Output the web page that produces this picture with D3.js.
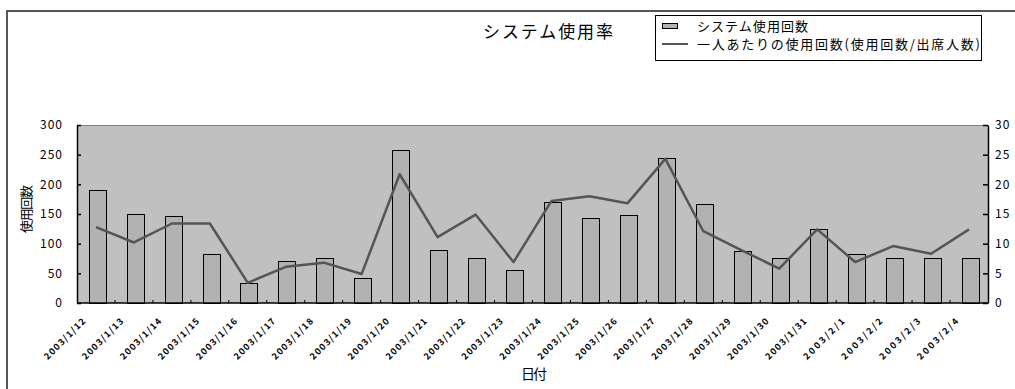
<!DOCTYPE html>
<html>
<head>
<meta charset="utf-8">
<script src="https://cdn.jsdelivr.net/npm/d3@7"></script>
<style>
  html, body { margin: 0; padding: 0; background: #fff; overflow: hidden; }
  text { font-family: "Noto Sans CJK JP", "DejaVu Sans", sans-serif; fill: #000; }
</style>
</head>
<body>
<svg id="chart" width="1015" height="389"></svg>
<script>
// 日付 (categories)
const dates = ["2003/1/12","2003/1/13","2003/1/14","2003/1/15","2003/1/16","2003/1/17",
  "2003/1/18","2003/1/19","2003/1/20","2003/1/21","2003/1/22","2003/1/23","2003/1/24",
  "2003/1/25","2003/1/26","2003/1/27","2003/1/28","2003/1/29","2003/1/30","2003/1/31",
  "2003/2/1","2003/2/2","2003/2/3","2003/2/4"];
// システム使用回数 (left axis)
const usageCount = [190,150,147,83,33,71,76,42,258,89,76,55,170,144,149,245,167,87,76,124,83,76,76,76];
// 一人あたりの使用回数 (right axis)
const usagePerPerson = [12.8,10.2,13.4,13.4,3.4,6.1,6.8,4.9,21.7,11.1,14.9,6.9,17.2,18.0,16.8,24.3,12.1,8.9,5.8,12.4,6.9,9.6,8.3,12.4];
const leftTicks = [0,50,100,150,200,250,300];
const rightTicks = [0,5,10,15,20,25,30];

const svg = d3.select("#chart");
const plot = { left: 77, right: 988, top: 125, bottom: 303 };

// outer chart frame (runs off the right and bottom edges)
svg.append("rect")
  .attr("x", 7).attr("y", 11).attr("width", 1100).attr("height", 500)
  .attr("fill", "none").attr("stroke", "#555").attr("stroke-width", 2);

const x = d3.scaleBand().domain(dates).range([plot.left, plot.right]).padding(0);
const yL = d3.scaleLinear().domain([0, 300]).range([plot.bottom, plot.top]);
const yR = d3.scaleLinear().domain([0, 30]).range([plot.bottom, plot.top]);

// plot background
svg.append("rect")
  .attr("x", plot.left).attr("y", plot.top)
  .attr("width", plot.right - plot.left).attr("height", plot.bottom - plot.top)
  .attr("fill", "#c0c0c0");
svg.append("line")
  .attr("x1", plot.left).attr("x2", plot.right).attr("y1", plot.top + 0.5).attr("y2", plot.top + 0.5)
  .attr("stroke", "#808080").attr("stroke-width", 1);

// bars
const barW = x.bandwidth() * 0.44;
svg.append("g").selectAll("rect").data(usageCount).join("rect")
  .attr("x", (d, i) => Math.round(x(dates[i]) + x.bandwidth() / 2 - barW / 2 + 1) + 0.5)
  .attr("y", d => Math.round(yL(d)) + 0.5)
  .attr("width", Math.round(barW))
  .attr("height", d => Math.round(plot.bottom - yL(d)))
  .attr("fill", "#b2b2b2").attr("stroke", "#000").attr("stroke-width", 1);

// per-person line
const line = d3.line()
  .x((d, i) => x(dates[i]) + x.bandwidth() / 2)
  .y(d => yR(d));
svg.append("path").datum(usagePerPerson)
  .attr("d", line).attr("fill", "none")
  .attr("stroke", "#555").attr("stroke-width", 2.5).attr("stroke-linejoin", "round");

// left axis
const gL = svg.append("g").attr("transform", `translate(${plot.left},0)`)
  .call(d3.axisLeft(yL).tickValues(leftTicks).tickSizeInner(-4).tickSizeOuter(0).tickPadding(14));
gL.select(".domain").attr("stroke", "#000").attr("stroke-width", 1.5);
gL.selectAll(".tick line").attr("stroke", "#000").attr("stroke-width", 1.5);
gL.selectAll(".tick text").attr("font-size", 12).attr("letter-spacing", 1).attr("fill", "#000");

// right axis
const gR = svg.append("g").attr("transform", `translate(${plot.right},0)`)
  .call(d3.axisRight(yR).tickValues(rightTicks).tickSizeInner(-5).tickSizeOuter(0).tickPadding(7));
gR.select(".domain").attr("stroke", "#000").attr("stroke-width", 1.5);
gR.selectAll(".tick line").attr("stroke", "#000").attr("stroke-width", 1.5);
gR.selectAll(".tick text").attr("font-size", 12).attr("letter-spacing", 1).attr("fill", "#000");

// category axis
svg.append("line")
  .attr("x1", plot.left).attr("x2", plot.right).attr("y1", plot.bottom).attr("y2", plot.bottom)
  .attr("stroke", "#000").attr("stroke-width", 1.5);
svg.append("g").selectAll("line").data(dates.slice(1)).join("line")
  .attr("x1", d => x(d)).attr("x2", d => x(d))
  .attr("y1", plot.bottom).attr("y2", plot.bottom - 3)
  .attr("stroke", "#000").attr("stroke-width", 1);
svg.append("g").selectAll("text").data(dates).join("text")
  .attr("transform", d => `translate(${x(d) + x.bandwidth() / 2 - 10},${plot.bottom + 19}) rotate(-45)`)
  .attr("text-anchor", "end")
  .attr("font-size", 9).attr("font-weight", "bold")
  .attr("textLength", 54).attr("lengthAdjust", "spacing")
  .text(d => d);

// titles
svg.append("text")
  .attr("x", 548).attr("y", 38).attr("text-anchor", "middle")
  .attr("font-size", 17).attr("textLength", 130).attr("lengthAdjust", "spacing")
  .text("システム使用率");
svg.append("text")
  .attr("transform", `translate(31,209) rotate(-90)`)
  .attr("text-anchor", "middle").attr("font-size", 13)
  .attr("textLength", 48).attr("lengthAdjust", "spacing")
  .text("使用回数");
svg.append("text")
  .attr("x", 534).attr("y", 379).attr("text-anchor", "middle")
  .attr("font-size", 14).attr("textLength", 26).attr("lengthAdjust", "spacing")
  .text("日付");

// legend
const lg = svg.append("g");
lg.append("rect").attr("x", 655.5).attr("y", 15.5).attr("width", 326).attr("height", 45)
  .attr("fill", "#fff").attr("stroke", "#000").attr("stroke-width", 1);
lg.append("rect").attr("x", 662.5).attr("y", 23.5).attr("width", 15).attr("height", 5)
  .attr("fill", "#b2b2b2").attr("stroke", "#000").attr("stroke-width", 1);
lg.append("line").attr("x1", 662).attr("x2", 688).attr("y1", 44).attr("y2", 44)
  .attr("stroke", "#555").attr("stroke-width", 2);
lg.append("text").attr("x", 697).attr("y", 31).attr("font-size", 13)
  .attr("textLength", 111).attr("lengthAdjust", "spacing")
  .text("システム使用回数");
lg.append("text").attr("x", 697).attr("y", 49).attr("font-size", 13)
  .attr("textLength", 283).attr("lengthAdjust", "spacing")
  .text("一人あたりの使用回数(使用回数/出席人数)");
</script>
</body>
</html>
